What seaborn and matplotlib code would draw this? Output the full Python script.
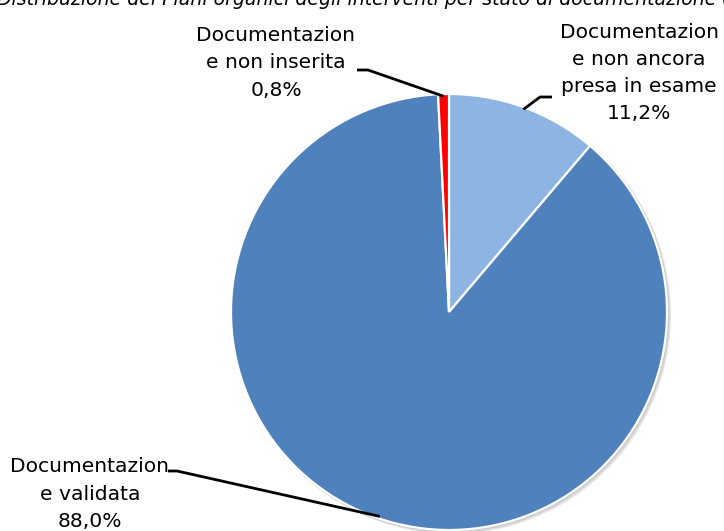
import numpy as np
import matplotlib
matplotlib.use("Agg")
import matplotlib.pyplot as plt
import seaborn as sns

labels = ["Documentazion\ne non ancora\npresa in esame", "Documentazion\ne validata", "Documentazion\ne non inserita"]
values = [11.2, 88.0, 0.8]
value_labels = ["11,2%", "88,0%", "0,8%"]
colors = ["#8EB4E3", "#4F81BD", "#FF0000"]
title = "Distribuzione dei Piani organici degli interventi per stato di documentazione di progetto"

sns.set_theme(style="white")
plt.rcParams['font.family'] = ['DejaVu Sans']

W, H = 724, 531
fig = plt.figure(figsize=(W / 100, H / 100), dpi=100)
ax = fig.add_axes([0, 0, 1, 1])

cx, cy, r = 449, H - 312, 218

# soft shadow
for i, a in enumerate([0.06, 0.07, 0.09]):
    ax.add_patch(plt.Circle((cx + 1 + i, cy - 1 - i), r + 1, color="#000000", alpha=a, lw=0, zorder=0))

wedges, _ = ax.pie(values, colors=colors, startangle=90, counterclock=False,
                   center=(cx, cy), radius=r, frame=True,
                   wedgeprops=dict(edgecolor="white", linewidth=1.6))
ax.set_xlim(0, W)
ax.set_ylim(0, H)
ax.set_aspect('equal')
ax.axis('off')

# label placement (layout): text center, elbow start, knee
layout = [
    dict(tx=639, ty=H - 73, elbow=(552, H - 97), knee=(540, H - 97)),
    dict(tx=90, ty=H - 494, elbow=(168, H - 471), knee=(177, H - 471)),
    dict(tx=276, ty=H - 63, elbow=(357, H - 70), knee=(368, H - 70)),
]

fs = 14.6
for w, lab, vl, lo in zip(wedges, labels, value_labels, layout):
    ang = np.deg2rad((w.theta1 + w.theta2) / 2)
    px, py = cx + r * 0.99 * np.cos(ang), cy + r * 0.99 * np.sin(ang)
    ax.text(lo["tx"], lo["ty"], lab + "\n" + vl, ha="center", va="center",
            fontsize=fs, linespacing=1.55, color="black")
    ax.plot([lo["elbow"][0], lo["knee"][0], px], [lo["elbow"][1], lo["knee"][1], py],
            color="black", lw=2.0, solid_capstyle="butt")

fig.text(-3 / W, 1 - 5 / H, title, ha="left", va="baseline", fontsize=13.6,
         style="italic", color="black")

fig.savefig("out.png", dpi=100)
